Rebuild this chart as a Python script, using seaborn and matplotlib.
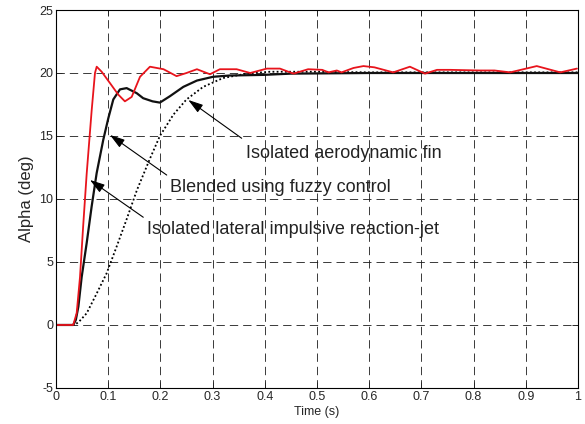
import numpy as np
import pandas as pd
import matplotlib
matplotlib.use('Agg')
import matplotlib.pyplot as plt
import seaborn as sns

# 数据
t_jet = [0, 0.033, 0.0396, 0.046, 0.052, 0.0588, 0.0683, 0.0747, 0.078, 0.0875,
         0.1034, 0.119, 0.132, 0.145, 0.161, 0.18, 0.206, 0.231, 0.25, 0.27,
         0.295, 0.314, 0.346, 0.372, 0.404, 0.429, 0.455, 0.483, 0.51, 0.522,
         0.538, 0.547, 0.57, 0.589, 0.61, 0.646, 0.678, 0.707, 0.73, 0.755,
         0.812, 0.84, 0.87, 0.921, 0.966, 0.998]
a_jet = [0, 0, 0.93, 3.8, 7.8, 12.0, 17.0, 20.0, 20.5, 20.1,
         19.2, 18.3, 17.75, 18.1, 19.7, 20.5, 20.3, 19.75, 20.0, 20.3,
         19.9, 20.3, 20.3, 20.0, 20.35, 20.35, 19.95, 20.3, 20.25, 20.05,
         20.2, 20.05, 20.4, 20.55, 20.45, 20.05, 20.5, 19.95, 20.25, 20.25,
         20.2, 20.2, 20.05, 20.55, 20.05, 20.35]

t_blend = [0, 0.033, 0.038, 0.0429, 0.0492, 0.0588, 0.0683, 0.0779, 0.0906, 0.1002,
           0.1098, 0.1226, 0.1354, 0.1546, 0.167, 0.185, 0.199, 0.218, 0.244, 0.27,
           0.301, 0.333, 0.397, 0.45, 0.6, 1.0]
a_blend = [0, 0, 0.4, 1.46, 3.8, 6.5, 9.4, 12.05, 14.7, 16.4,
           17.9, 18.7, 18.8, 18.4, 18.0, 17.75, 17.65, 18.15, 18.9, 19.4,
           19.7, 19.8, 19.85, 19.95, 20.0, 20.0]

t_fin = [0, 0.036, 0.045, 0.0588, 0.078, 0.097, 0.116, 0.135, 0.155, 0.18,
         0.199, 0.225, 0.25, 0.282, 0.32, 0.365, 0.41, 0.5, 0.6, 1.0]
a_fin = [0, 0, 0.3, 0.93, 2.5, 4.1, 6.2, 8.35, 10.7, 13.2,
         15.0, 16.7, 17.9, 18.9, 19.6, 19.95, 20.1, 20.1, 20.05, 20.05]

x_ticks = [0, 0.1, 0.2, 0.3, 0.4, 0.5, 0.6, 0.7, 0.8, 0.9, 1]
x_ticklabels = ['0', '0.1', '0.2', '0.3', '0.4', '0.5', '0.6', '0.7', '0.8', '0.9', '1']
y_ticks = [-5, 0, 5, 10, 15, 20, 25]

# 注释：文字, 箭头尖, 箭头尾, 文字位置
labels = ['Isolated aerodynamic fin', 'Blended using fuzzy control',
          'Isolated lateral impulsive reaction-jet']
arrow_tips = [(0.2534, 17.86), (0.1034, 15.08), (0.0651, 11.51)]
arrow_tails = [(0.3557, 14.82), (0.2121, 11.9), (0.1672, 8.55)]
text_pos = [(0.364, 13.6), (0.2184, 10.9), (0.1743, 7.6)]

sns.set_style('ticks')
plt.rcParams['font.family'] = ['Liberation Sans', 'DejaVu Sans']
plt.rcParams['axes.unicode_minus'] = False
plt.rcParams['xtick.direction'] = 'in'
plt.rcParams['ytick.direction'] = 'in'
plt.rcParams['xtick.top'] = True
plt.rcParams['ytick.right'] = True

df_jet = pd.DataFrame({'t': t_jet, 'a': a_jet})
df_blend = pd.DataFrame({'t': t_blend, 'a': a_blend})
df_fin = pd.DataFrame({'t': t_fin, 'a': a_fin})

fig = plt.figure(figsize=(5.85, 4.24), dpi=100)
ax = fig.add_axes([0.0957, 0.085, 0.8923, 0.8914])

ax.grid(True, color='0.1', linestyle=(0, (10, 6)), linewidth=0.6)
ax.set_axisbelow(True)

sns.lineplot(x='t', y='a', data=df_fin, ax=ax, color='black', linewidth=1.3,
             linestyle=(0, (1, 1.3)), estimator=None, sort=False)
sns.lineplot(x='t', y='a', data=df_blend, ax=ax, color='#111111', linewidth=1.6,
             estimator=None, sort=False)
sns.lineplot(x='t', y='a', data=df_jet, ax=ax, color='#e8141c', linewidth=1.3,
             estimator=None, sort=False)

for lab, tip, tail, pos in zip(labels, arrow_tips, arrow_tails, text_pos):
    ax.annotate('', xy=tip, xytext=tail,
                arrowprops=dict(arrowstyle='-|>,head_length=0.9,head_width=0.28',
                                color='black', lw=0.8, shrinkA=0, shrinkB=0))
    ax.text(pos[0], pos[1], lab, fontsize=13, va='center', ha='left', color='#222222')

ax.set_xlim(0, 1)
ax.set_ylim(-5, 25)
ax.set_xticks(x_ticks)
ax.set_xticklabels(x_ticklabels)
ax.set_yticks(y_ticks)
ax.tick_params(labelsize=9, length=4, width=0.7, pad=2)
ax.set_xlabel('Time (s)', fontsize=9, labelpad=2)
ax.set_ylabel('Alpha (deg)', fontsize=12, labelpad=4)
for s in ax.spines.values():
    s.set_linewidth(0.8)
    s.set_color('black')

plt.savefig('out.png', dpi=100)
